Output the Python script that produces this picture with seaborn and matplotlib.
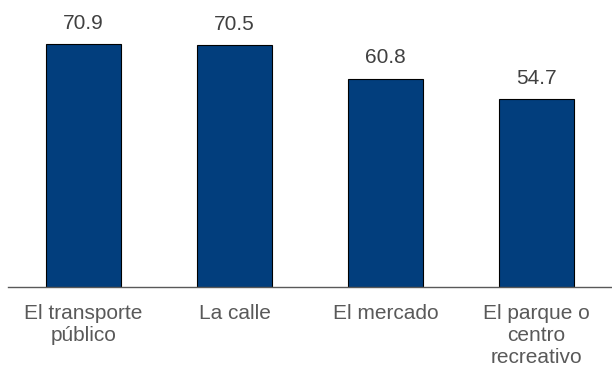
import pandas as pd
import seaborn as sns
from matplotlib import pyplot as plt

# data
lugares = ['El transporte\npúblico', 'La calle', 'El mercado', 'El parque o\ncentro\nrecreativo']
valores = [70.9, 70.5, 60.8, 54.7]

df = pd.DataFrame({'lugar': lugares, 'valor': valores})

sns.set_style('white')
plt.rcParams['font.family'] = ['Liberation Sans', 'DejaVu Sans']

fig = plt.figure(figsize=(6.12, 3.69), dpi=100)
ax = fig.add_axes([0.013, 0.222, 0.987, 0.778])

sns.barplot(df, x='lugar', y='valor', color='#023e7d', saturation=1,
            width=0.5, edgecolor='black', linewidth=0.8, ax=ax)

ax.bar_label(ax.containers[0], fmt='%.1f', padding=8, fontsize=15, color='#404040')

ax.set_xlim(-0.5, 3.5)
ax.set_ylim(0, 83.7)
ax.set_xlabel('')
ax.set_ylabel('')
ax.set_yticks([])
ax.tick_params(axis='x', length=0, pad=12, labelsize=15, labelcolor='#595959')
for s in ['top', 'left', 'right']:
    ax.spines[s].set_visible(False)
ax.spines['bottom'].set_color('#595959')
ax.spines['bottom'].set_linewidth(1)

plt.savefig('out.png')
